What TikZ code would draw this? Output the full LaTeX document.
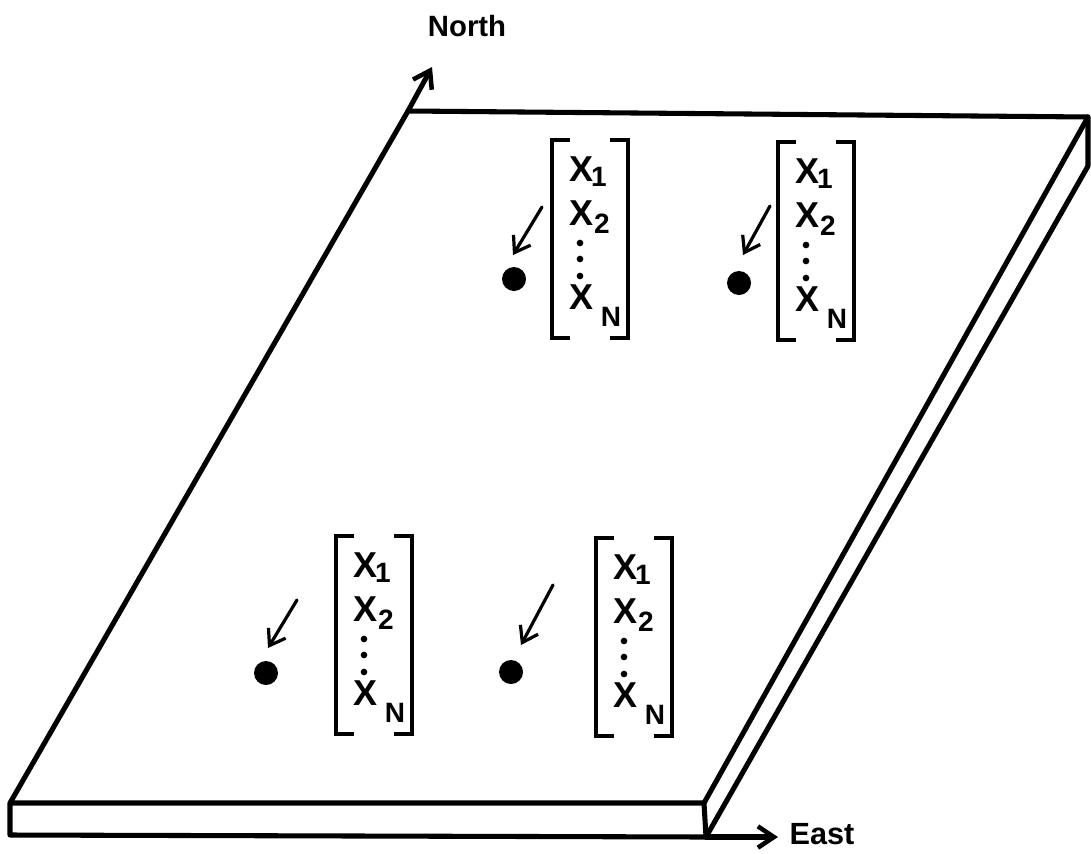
\documentclass[tikz,border=0pt]{standalone}
\usepackage{fontspec}
\setmainfont{Liberation Sans}
\usetikzlibrary{arrows.meta}
\tikzset{
  slab/.style={line width=3.8pt, line join=round, line cap=round},
  bigarrow/.style={-{Straight Barb[length=12pt,width=16pt,line width=3.4pt]}},
  brk/.style={line width=3.3pt, line join=miter},
  ptr/.style={line width=2.4pt, line cap=round, -{Straight Barb[length=11pt,width=15pt,line width=2.4pt]}},
  lab/.style={inner sep=0pt, font=\fontsize{22}{24}\selectfont\bfseries},
  xv/.style={inner sep=0pt, font=\fontsize{27}{29}\selectfont\bfseries},
  sb/.style={inner sep=0pt, font=\fontsize{21}{23}\selectfont\bfseries},
  vdot/.style={circle, fill=black, inner sep=0pt, minimum size=5pt},
  site/.style={circle, fill=black, inner sep=0pt, minimum size=18pt},
}
\newcommand\vecblock[2]{%
  \begin{scope}[shift={#2}]
    \draw[brk] (18,0) -- (0,0) -- (0,198) -- (18,198);
    \draw[brk] (58,0) -- (76,0) -- (76,198) -- (58,198);
    \node[xv] (#1xa) at (29,29) {X};
    \node[sb] (#1sa) at (47,37) {1};
    \node[xv] (#1xb) at (29,73) {X};
    \node[sb] (#1sb) at (50,84) {2};
    \node[vdot] (#1da) at (28,103) {};
    \node[vdot] (#1db) at (28,119) {};
    \node[vdot] (#1dc) at (28,136) {};
    \node[xv] (#1xn) at (29,157) {X};
    \node[sb] (#1sn) at (59,177) {N};
  \end{scope}}
\begin{document}
\begin{tikzpicture}[x=0.75pt,y=-0.75pt]
\useasboundingbox (0,0) rectangle (1091,853);
% slab corners
\coordinate (FL) at (10,803);
\coordinate (BL) at (408,111);
\coordinate (BR) at (1088,117);
\coordinate (FR) at (704,803);
\coordinate (FLb) at (10,835);
\coordinate (FRb) at (706,837);
\coordinate (BRb) at (1088,166);
\coordinate (Ntip) at (432,67);
\coordinate (Etip) at (778,837);
\draw[slab] (FL) -- (BL) -- (BR) -- (FR) -- cycle;
\draw[slab] (FL) -- (FLb) -- (FRb) -- (FR);
\draw[slab] (FRb) -- (BRb) -- (BR);
\draw[slab, bigarrow] (BL) -- (Ntip);
\draw[slab, bigarrow] (FRb) -- (Etip);
\node[lab] (north) at (467,26) {North};
\node[lab, font=\fontsize{23}{25}\selectfont\bfseries] (east) at (822,834) {East};
% vectors
\vecblock{tl}{(552,140)}
\vecblock{tr}{(778,142)}
\vecblock{bl}{(336,536)}
\vecblock{br}{(596,538)}
% sites and pointers
\node[site] (s1) at (514,279) {};
\node[site] (s2) at (739,283) {};
\node[site] (s3) at (266,673) {};
\node[site] (s4) at (511,672) {};
\coordinate (p1a) at (542,207); \coordinate (p1b) at (513,255);
\coordinate (p2a) at (770,206); \coordinate (p2b) at (743,255);
\coordinate (p3a) at (297,600); \coordinate (p3b) at (268,648);
\coordinate (p4a) at (553,585); \coordinate (p4b) at (521,645);
\draw[ptr] (p1a) -- (p1b);
\draw[ptr] (p2a) -- (p2b);
\draw[ptr] (p3a) -- (p3b);
\draw[ptr] (p4a) -- (p4b);
\end{tikzpicture}
\end{document}
